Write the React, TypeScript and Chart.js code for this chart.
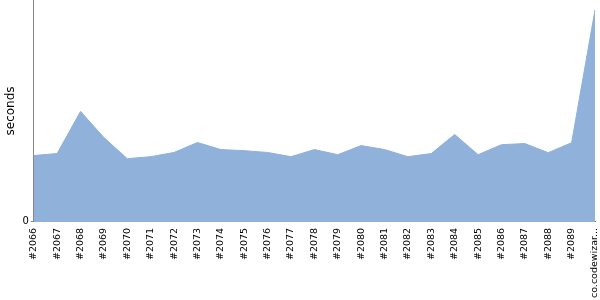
import React, { useEffect, useRef } from "react";
import { Chart, registerables } from "chart.js";

Chart.register(...registerables);

const categories: string[] = [
  "#2066", "#2067", "#2068", "#2069", "#2070", "#2071", "#2072", "#2073",
  "#2074", "#2075", "#2076", "#2077", "#2078", "#2079", "#2080", "#2081",
  "#2082", "#2083", "#2084", "#2085", "#2086", "#2087", "#2088", "#2089",
  "co.codewizar...",
];

const seconds: number[] = [
  2.99, 3.08, 4.98, 3.8, 2.85, 2.94, 3.13, 3.58,
  3.26, 3.21, 3.13, 2.94, 3.26, 3.03, 3.44, 3.26,
  2.94, 3.08, 3.94, 3.03, 3.48, 3.53, 3.12, 3.57,
  9.55,
];

const yTicks: number[] = [0];
const yMax = 10;

export default function App() {
  const ref = useRef<HTMLCanvasElement | null>(null);
  useEffect(() => {
    document.body.style.margin = "0";
    const ctx = ref.current!;
    const chart = new Chart(ctx, {
      type: "line",
      data: {
        labels: categories,
        datasets: [
          {
            data: seconds,
            fill: "origin",
            backgroundColor: "rgb(143,177,218)",
            borderColor: "rgb(143,177,218)",
            borderWidth: 1,
            pointRadius: 0,
            tension: 0,
          },
        ],
      },
      options: {
        animation: false,
        responsive: false,
        maintainAspectRatio: false,
        layout: { padding: { top: 0, right: 0, bottom: -4, left: 4 } },
        plugins: { legend: { display: false }, tooltip: { enabled: false } },
        scales: {
          x: {
            offset: false,
            afterFit: (scale: any) => {
              scale.paddingRight = 5;
            },
            grid: { display: false, drawTicks: false },
            border: { display: true, color: "#888" },
            ticks: {
              autoSkip: false,
              minRotation: 90,
              maxRotation: 90,
              color: "#000",
              padding: 6,
              font: { family: "DejaVu Sans", size: 9.5 },
            },
          },
          y: {
            min: 0,
            max: yMax,
            afterBuildTicks: (axis: any) => {
              axis.ticks = yTicks.map((v) => ({ value: v }));
            },
            afterFit: (scale: any) => {
              scale.paddingTop = 0;
            },
            grid: { display: true, drawOnChartArea: false, drawTicks: true, tickLength: 3, color: "#888" },
            border: { display: true, color: "#888" },
            ticks: {
              color: "#000",
              padding: 2,
              font: { family: "DejaVu Sans", size: 10 },
            },
            title: {
              display: true,
              text: "seconds",
              color: "#000",
              padding: { top: 0, bottom: 2 },
              font: { family: "DejaVu Sans", size: 12 },
            },
          },
        },
      },
    });
    return () => chart.destroy();
  }, []);
  return <canvas ref={ref} width={600} height={300} style={{ display: "block" }} />;
}
